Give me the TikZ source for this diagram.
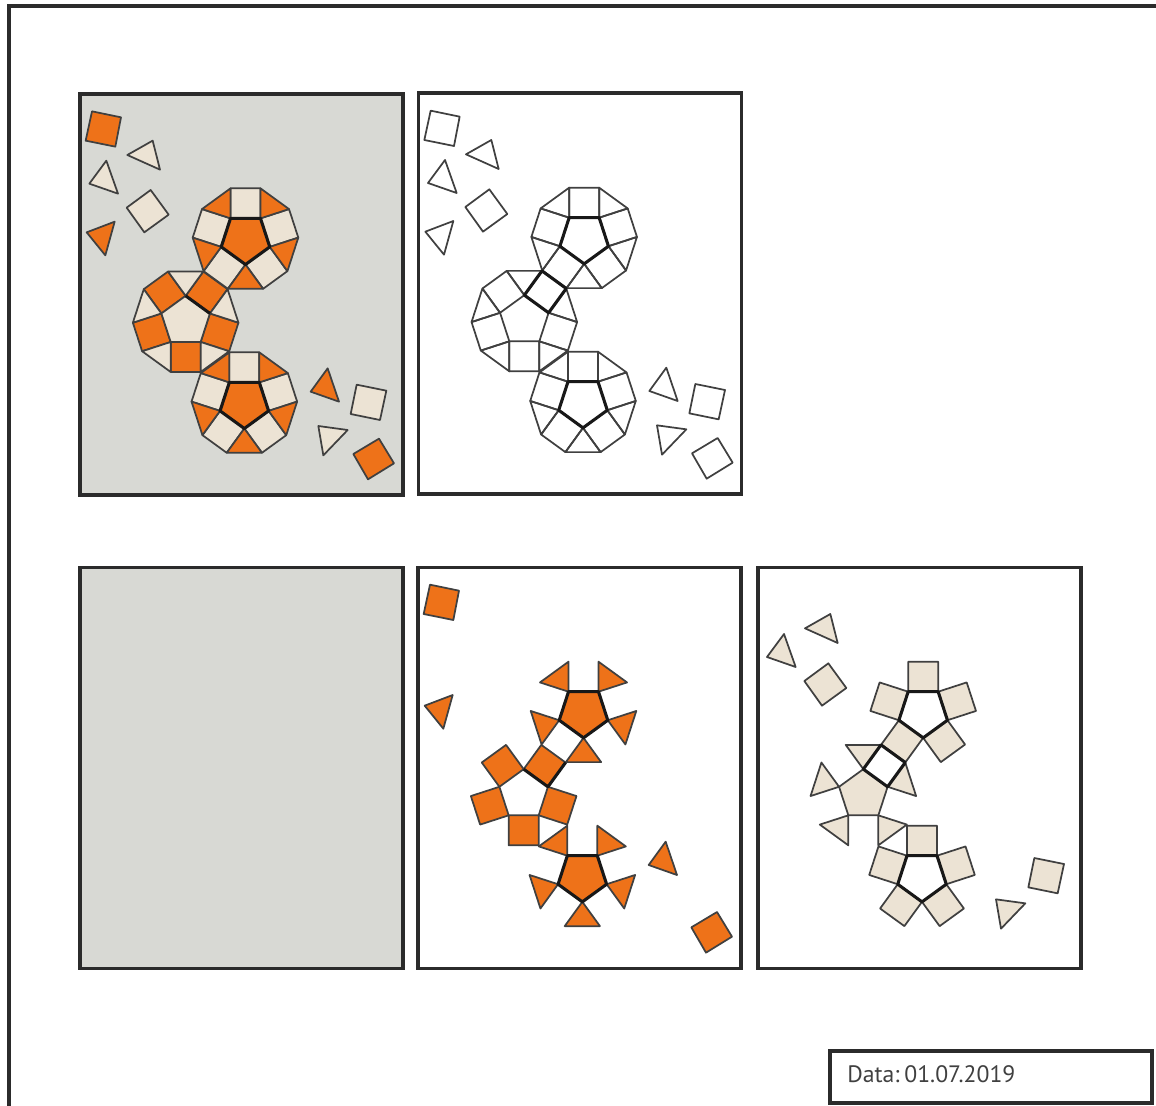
\documentclass[tikz,border=0pt]{standalone}
\usepackage{fontspec}
\setmainfont{PT Sans}
\definecolor{orangefill}{HTML}{EE7219}
\definecolor{creamfill}{HTML}{ECE3D4}
\definecolor{greyfill}{HTML}{D8D9D4}
\definecolor{edgeline}{HTML}{404040}
\definecolor{heavyline}{HTML}{181818}
\definecolor{framedark}{HTML}{2B2B2B}
\tikzset{
  framebox/.style={draw=framedark,line width=2.4pt,inner sep=0pt,outer sep=0pt,minimum width=242.25pt,minimum height=300.75pt},
  orshape/.style={draw=edgeline,fill=orangefill,line width=1.3pt,line join=round},
  crshape/.style={draw=edgeline,fill=creamfill,line width=1.3pt,line join=round},
  noshape/.style={draw=edgeline,line width=1.3pt,line join=round},
  heavy/.style={draw=heavyline,line width=2.3pt,line join=round},
}
% ring geometry: name, centre x, centre y, start angle (y grows downward)
\newcommand{\ringdef}[4]{%
  \foreach \k in {0,...,4}{%
    \coordinate (#1v\k) at ({#2+76.56*cos(#4+72*\k)},{#3+76.56*sin(#4+72*\k)});
    \coordinate (#1a\k) at ({#2+158.46*cos(#4+36+72*\k-16.5)},{#3+158.46*sin(#4+36+72*\k-16.5)});
    \coordinate (#1b\k) at ({#2+158.46*cos(#4+36+72*\k+16.5)},{#3+158.46*sin(#4+36+72*\k+16.5)});
  }}
\newcommand{\allgeom}{\ringdef{T}{507.5}{445}{90}\ringdef{M}{328}{692}{-90}\ringdef{B}{504}{937}{90}}
\newcommand{\squaresof}[2]{\foreach \k/\n in {0/1,1/2,2/3,3/4,4/0}{\draw[#2] (#1v\k)--(#1v\n)--(#1b\k)--(#1a\k)--cycle;}}
\newcommand{\trisof}[2]{\foreach \k/\n in {0/1,1/2,2/3,3/4,4/0}{\draw[#2] (#1v\n)--(#1b\k)--(#1a\n)--cycle;}}
\newcommand{\pentof}[2]{\draw[#2] (#1v0)--(#1v1)--(#1v2)--(#1v3)--(#1v4)--cycle;}
\newcommand{\centralsq}[1]{\draw[#1] (Mv0)--(Mv1)--(Mb0)--(Ma0)--cycle;}
\newcommand{\looseA}[1]{\draw[#1] (47,62)--(134,80)--(117,168)--(28,150)--cycle;}
\newcommand{\looseB}[1]{\draw[#1] (153,193)--(229,150)--(251,237)--cycle;}
\newcommand{\looseC}[1]{\draw[#1] (90,210)--(125,309)--(39,279)--cycle;}
\newcommand{\looseD}[1]{\draw[#1] (223,298)--(277,372)--(204,425)--(151,351)--cycle;}
\newcommand{\looseE}[1]{\draw[#1] (115,393)--(87,494)--(31,425)--cycle;}
\newcommand{\looseF}[1]{\draw[#1] (754,833)--(788,933)--(703,903)--cycle;}
\newcommand{\looseG}[1]{\draw[#1] (841,882)--(930,900)--(911,988)--(823,970)--cycle;}
\newcommand{\looseH}[1]{\draw[#1] (726,1006)--(814,1018)--(741,1094)--cycle;}
\newcommand{\looseI}[1]{\draw[#1] (908,1044)--(953,1118)--(875,1166)--(831,1090)--cycle;}
\begin{document}
\begin{tikzpicture}[x=0.75pt,y=-0.75pt]
\useasboundingbox (0,0) rectangle (1156,1106);
% outer frame
\coordinate (fa) at (9,1106);
\coordinate (fb) at (9,6);
\coordinate (fc) at (1156,6);
\draw[draw=framedark,line width=2.4pt] (fa)--(fb)--(fc);
% panels
\node[framebox,fill=greyfill] (panelA) at (241.5,294.5) {};
\node[framebox] (panelB) at (580,293.5) {};
\node[framebox,fill=greyfill] (panelC) at (241.5,768) {};
\node[framebox] (panelD) at (579.5,768) {};
\node[framebox] (panelE) at (919.5,768) {};
% date box
\node[draw=framedark,line width=2.4pt,inner sep=0pt,outer sep=0pt,minimum width=241.5pt,minimum height=39pt] (datebox) at (991,1077) {};
\node[anchor=base west,inner sep=0pt,font=\fontsize{17.8pt}{20pt}\selectfont,text=edgeline] (datetext) at (847,1082.5) {Data:\hspace{0.2em}01.07.2019};
% panel A
\begin{scope}[x=0.25pt,y=-0.25pt,shift={(229,272)}]
\allgeom
\squaresof{M}{orshape}\trisof{M}{crshape}\pentof{M}{crshape}
\squaresof{T}{crshape}\trisof{T}{orshape}\pentof{T}{orshape,heavy}
\squaresof{B}{crshape}\trisof{B}{orshape}\pentof{B}{orshape,heavy}
\draw[heavy] (Mv0)--(Mv1);
\looseA{orshape}\looseB{crshape}\looseC{crshape}\looseD{crshape}\looseE{orshape}
\looseF{orshape}\looseG{crshape}\looseH{crshape}\looseI{orshape}
\end{scope}
% panel B
\begin{scope}[x=0.25pt,y=-0.25pt,shift={(1245,270)}]
\allgeom
\squaresof{M}{noshape}\trisof{M}{noshape}
\squaresof{T}{noshape}\trisof{T}{noshape}
\squaresof{B}{noshape}\trisof{B}{noshape}
\pentof{T}{heavy}\pentof{B}{heavy}\centralsq{heavy}
\looseA{noshape}\looseB{noshape}\looseC{noshape}\looseD{noshape}\looseE{noshape}
\looseF{noshape}\looseG{noshape}\looseH{noshape}\looseI{noshape}
\end{scope}
% panel D
\begin{scope}[x=0.25pt,y=-0.25pt,shift={(1243,1692)}]
\allgeom
\squaresof{M}{orshape}
\trisof{T}{orshape}\pentof{T}{orshape,heavy}
\trisof{B}{orshape}\pentof{B}{orshape,heavy}
\draw[heavy] (Mv0)--(Mv1)--(Mb0);
\looseA{orshape}\looseE{orshape}\looseF{orshape}\looseI{orshape}
\end{scope}
% panel E
\begin{scope}[x=0.25pt,y=-0.25pt,shift={(2262,1692)}]
\allgeom
\trisof{M}{crshape}\pentof{M}{crshape}
\squaresof{T}{crshape}\squaresof{B}{crshape}
\pentof{T}{heavy}\pentof{B}{heavy}
\centralsq{heavy,fill=white}
\looseB{crshape}\looseC{crshape}\looseD{crshape}\looseG{crshape}\looseH{crshape}
\end{scope}
\end{tikzpicture}
\end{document}
